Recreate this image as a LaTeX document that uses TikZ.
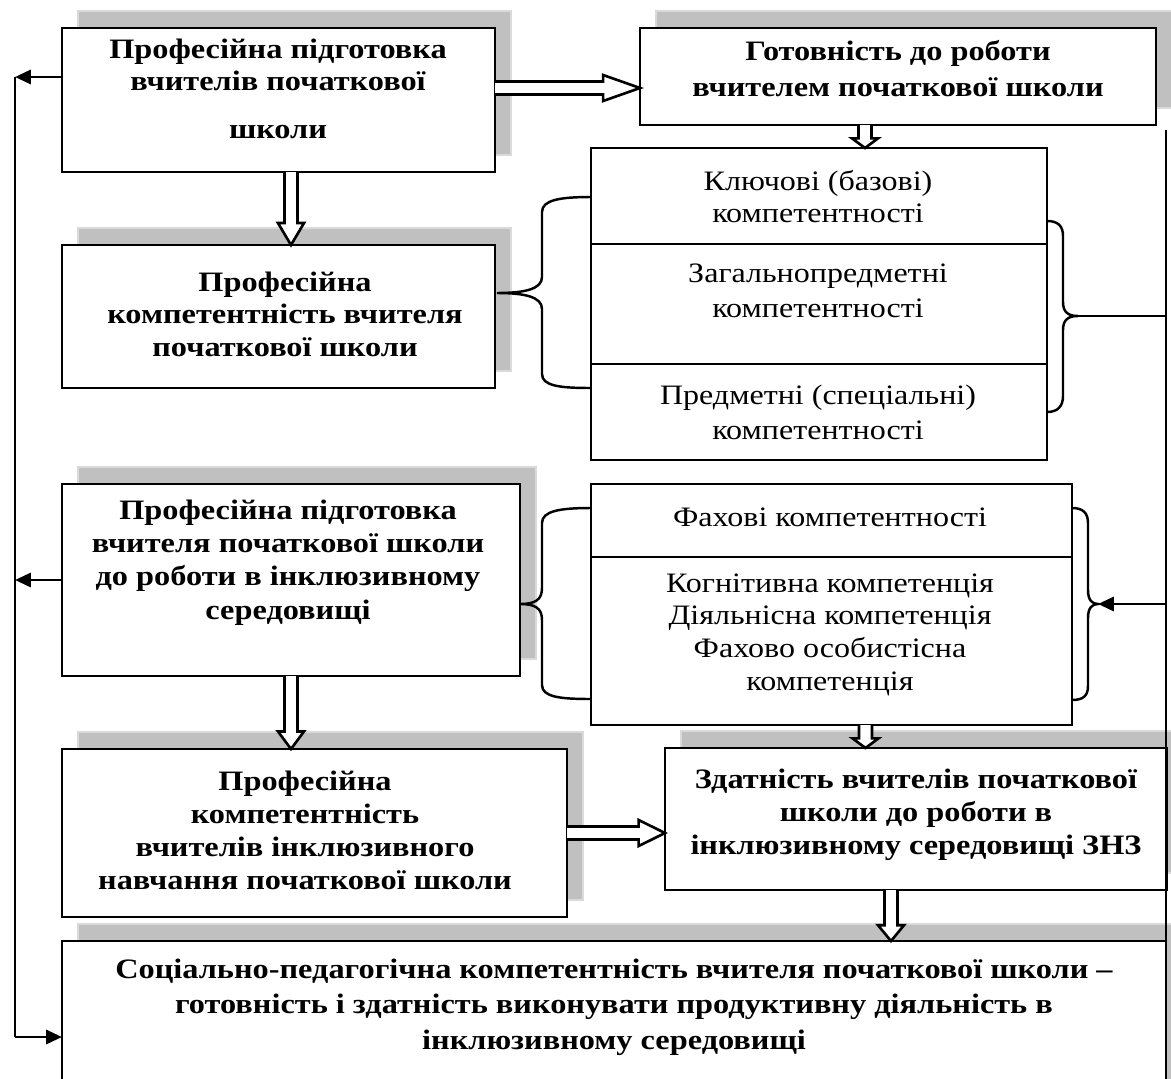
\documentclass[tikz,border=0pt]{standalone}
\usepackage{fontspec}
\setmainfont{Liberation Serif}
\usepackage{graphicx}
\usetikzlibrary{fit,calc,arrows.meta}
\definecolor{shgray}{HTML}{C0C0C0}
\definecolor{shedge}{HTML}{DADADA}
\tikzset{
 box/.style={draw=black, line width=1.6pt, fill=white, inner sep=0pt, outer sep=0pt},
 shadowbox/.style={fill=shgray, draw=shedge, line width=0.6pt},
 divider/.style={draw=black, line width=0.7pt},
 brace/.style={draw=black, line width=1.4pt},
 conn/.style={draw=black, line width=1.6pt},
 tip/.style={-{Triangle[length=9pt,width=8pt]}},
 dblarr/.style={draw=black, line width=1.5pt, fill=white, line join=miter},
 txt/.style={inner sep=0pt, anchor=base},
}
\newcommand\btx[2][18.7pt]{\scalebox{1.15}[1]{\fontsize{16}{#1}\selectfont\bfseries\lineskiplimit=-100pt\vtop{\halign{\hfil##\hfil\cr #2\crcr}}}}
\newcommand\rtx[2][18.7pt]{\scalebox{1.14}[1]{\fontsize{16}{#1}\selectfont\lineskiplimit=-100pt\vtop{\halign{\hfil##\hfil\cr #2\crcr}}}}
\newcommand\shbox[5]{\path[shadowbox] (#2+16,#3-17) rectangle (#4+16,#5-17);
 \node[box,fit={(#2,#3) (#4,#5)}] (#1) {};}
\newcommand\darr[3][12.5pt]{\draw[dblarr] let \p1=(#2), \p2=(#3) in
 (\x1-3.7pt,\y1) -- (\x1-3.7pt,\y2+#1) -- (\x1-7.4pt,\y2+#1) -- (\x1,\y2) -- (\x1+7.4pt,\y2+#1) -- (\x1+3.7pt,\y2+#1) -- (\x1+3.7pt,\y1);}
\newcommand\rarr[3][12.5pt]{\draw[dblarr] let \p1=(#2), \p2=(#3) in
 (\x1,\y1+3.7pt) -- (\x2-#1,\y1+3.7pt) -- (\x2-#1,\y1+7.4pt) -- (\x2,\y1) -- (\x2-#1,\y1-7.4pt) -- (\x2-#1,\y1-3.7pt) -- (\x1,\y1-3.7pt);}
\begin{document}
\begin{tikzpicture}[x=0.02cm,y=-0.02cm]
\clip (0,0) rectangle (1171,1079);
\fill[white] (0,0) rectangle (1171,1079);
% boxes with shadows
\shbox{A}{62}{28}{495}{172}
\shbox{B}{640}{28}{1156}{125}
\shbox{D}{62}{245}{495}{388}
\shbox{H}{62}{484}{520}{676}
\shbox{I}{62}{749}{567}{917}
\shbox{F}{665}{748}{1167}{890}
\shbox{E}{62}{941}{1166}{1110}
% competence boxes
\node[box,fit={(591,148) (1047,460)}] (C) {};
\node[box,fit={(591,484) (1072,725)}] (G) {};
\coordinate (c1) at (0,244);
\coordinate (c2) at (0,364);
\coordinate (g1) at (0,557);
\draw[divider] (C.west |- c1) -- (C.east |- c1);
\draw[divider] (C.west |- c2) -- (C.east |- c2);
\draw[divider] (G.west |- g1) -- (G.east |- g1);
% texts
\node[txt] (At) at (278,58) {\btx[18.5pt]{Професійна підготовка\cr вчителів початкової\cr\noalign{\vskip 9pt}школи}};
\node[txt] (Bt) at (898,60) {\btx[20.5pt]{Готовність до роботи\cr вчителем початкової школи}};
\node[txt] (Dt) at (285,291) {\btx[18.5pt]{Професійна\cr компетентність вчителя\cr початкової школи}};
\node[txt] (Ht) at (288,519) {\btx[19pt]{Професійна підготовка\cr вчителя початкової школи\cr до роботи в інклюзивному\cr середовищі}};
\node[txt] (It) at (305,790) {\btx[18.9pt]{Професійна\cr компетентність\cr вчителів інклюзивного\cr навчання початкової школи}};
\node[txt] (Ft) at (916,788) {\btx[18.8pt]{Здатність вчителів початкової\cr школи до роботи в\cr інклюзивному середовищі ЗНЗ}};
\node[txt] (Et) at (614,978) {\btx[20.3pt]{Соціально-педагогічна компетентність вчителя початкової школи –\cr готовність і здатність виконувати продуктивну діяльність в\cr інклюзивному середовищі}};
\node[txt] (C1) at (818,190) {\rtx[18.5pt]{Ключові (базові)\cr компетентності}};
\node[txt] (C2) at (818,282) {\rtx[20pt]{Загальнопредметні\cr компетентності}};
\node[txt] (C3) at (818,404) {\rtx[20pt]{Предметні (спеціальні)\cr компетентності}};
\node[txt] (G1) at (830,526) {\rtx{Фахові компетентності}};
\node[txt] (G2) at (830,592) {\rtx[18.7pt]{Когнітивна компетенція\cr Діяльнісна компетенція\cr Фахово особистісна\cr компетенція}};
% braces
\draw[brace] (C.west |- 0,197) .. controls (560,197) and (542,200) .. (542,212) -- (542,277) .. controls (542,289) and (525,293) .. (497,293) .. controls (525,293) and (542,297) .. (542,309) -- (542,374) .. controls (542,386) and (560,388) .. (C.west |- 0,388);
\draw[brace] (C.east |- 0,221) .. controls (1058,221) and (1063,226) .. (1063,236) -- (1063,302) .. controls (1063,312) and (1068,316) .. (1078,316) .. controls (1068,316) and (1063,320) .. (1063,330) -- (1063,396) .. controls (1063,406) and (1058,412) .. (C.east |- 0,412);
\draw[brace] (G.west |- 0,508) .. controls (560,508) and (542,511) .. (542,523) -- (542,588) .. controls (542,600) and (535,604) .. (520,604) .. controls (535,604) and (542,608) .. (542,620) -- (542,685) .. controls (542,697) and (560,699) .. (G.west |- 0,699);
\draw[brace] (G.east |- 0,508) .. controls (1083,508) and (1088,513) .. (1088,523) -- (1088,590) .. controls (1088,600) and (1092,604) .. (1098,604) .. controls (1092,604) and (1088,608) .. (1088,618) -- (1088,686) .. controls (1088,696) and (1083,700) .. (G.east |- 0,700);
% left feedback line
\coordinate (L1) at (15,77);
\coordinate (L3) at (15,1037);
\draw[conn,tip] (A.west |- L1) -- (L1);
\draw[conn,tip] (H.west) -- (H.west -| L1);
\draw[conn] (L1) -- (L3);
\draw[conn,tip] (L3) -- (E.west |- L3);
% right line
\coordinate (R0) at (1166,130);
\coordinate (R3) at (1166,1090);
\coordinate (Cm) at (1078,316);
\coordinate (Gm) at (1098,604);
\draw[conn] (R0) -- (R3);
\draw[conn] (Cm) -- (R0 |- Cm);
\draw[conn,tip] (R0 |- Gm) -- (Gm);
% double arrows
\rarr[21pt]{$(A.east)+(0,-12)$}{B.west}
\darr[12.5pt]{$(A.south)+(12.5,0)$}{D.north}
\darr[5.5pt]{$(B.south)+(-33,0)$}{C.north}
\darr[10pt]{H.south}{I.north}
\rarr[15pt]{I.east}{F.west}
\darr[5.5pt]{$(G.south)+(34,0)$}{F.north}
\darr[9pt]{$(F.south)+(-25,0)$}{E.north}
\end{tikzpicture}
\end{document}
